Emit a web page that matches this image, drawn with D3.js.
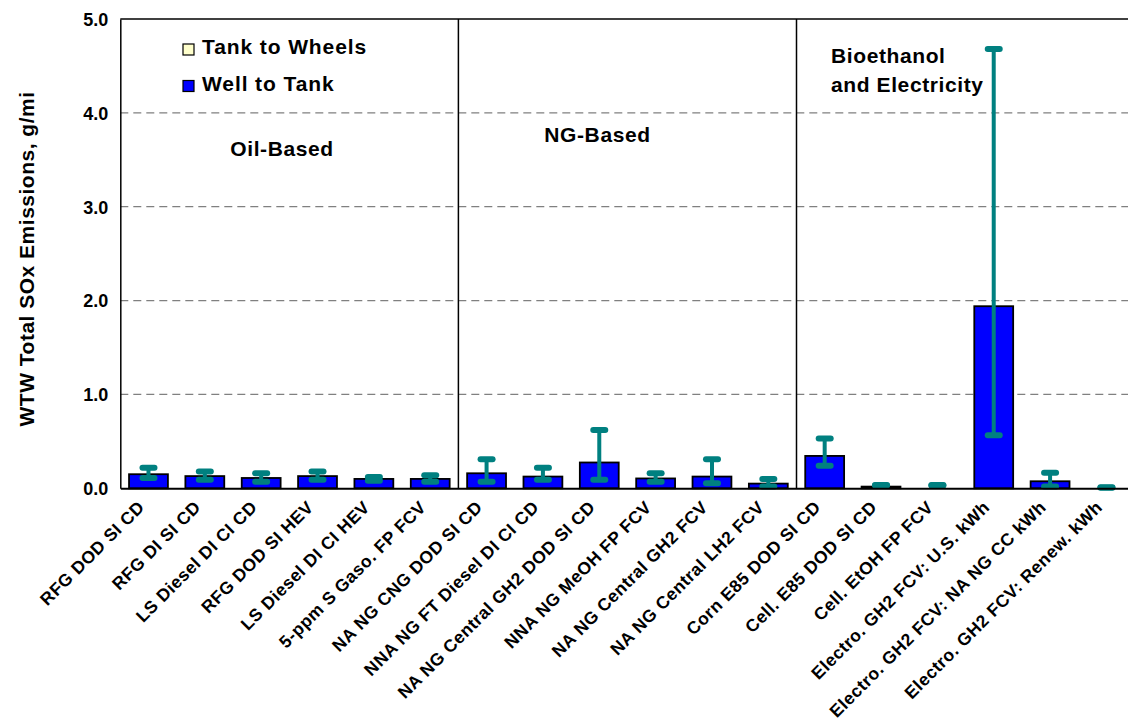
<!DOCTYPE html>
<html><head><meta charset="utf-8">
<script src="https://cdn.jsdelivr.net/npm/d3@7"></script>
<style>
html,body{margin:0;padding:0;background:#fff;}
svg text{font-family:Arial,"Liberation Sans",sans-serif;font-weight:bold;fill:#000;}
</style></head>
<body><svg id="c" width="1128" height="726"></svg>
<script>
const categories = ["RFG DOD SI CD","RFG DI SI CD","LS Diesel DI CI CD","RFG DOD SI HEV","LS Diesel DI CI HEV","5-ppm S Gaso. FP FCV",
 "NA NG CNG DOD SI CD","NNA NG FT Diesel DI CI CD","NA NG Central GH2 DOD SI CD","NNA NG MeOH FP FCV","NA NG Central GH2 FCV","NA NG Central LH2 FCV",
 "Corn E85 DOD SI CD","Cell. E85 DOD SI CD","Cell. EtOH FP FCV","Electro. GH2 FCV: U.S. kWh","Electro. GH2 FCV: NA NG CC kWh","Electro. GH2 FCV: Renew. kWh"];
const wellToTank   = [0.15,0.13,0.11,0.13,0.10,0.10, 0.16,0.125,0.275,0.105,0.125,0.05, 0.345,0.018,0,1.94,0.075,0];
const tankToWheels = [0,0,0,0,0,0, 0,0,0,0,0,0, 0,0,0,0,0,0];
const errHigh = [0.22,0.18,0.16,0.18,0.12,0.14, 0.31,0.22,0.62,0.16,0.31,0.10, 0.53,0.035,0.035,4.68,0.165,0.01];
const errLow  = [0.11,0.09,0.07,0.09,0.08,0.07, 0.07,0.09,0.09,0.07,0.055,0.02, 0.24,0.03,0.03,0.565,0.02,0.005];
const yTicks = [0,1,2,3,4,5];
const groupBreaks = [6,12];
const seriesNames = ["Tank to Wheels","Well to Tank"];
const seriesColors = ["#FFFFCC","#0000FF"];

const svg = d3.select("#c");
const L = 120.3, R = 1134.6, T = 19, B = 488.3;
const x = d3.scaleBand().domain(categories).range([L,R]).paddingInner(0.31).paddingOuter(0.155);
const y = d3.scaleLinear().domain([0,5]).range([B,T]);

// gridlines
svg.append("g").selectAll("line").data(yTicks.filter(d=>d>0&&d<5)).join("line")
 .attr("x1",L).attr("x2",R).attr("y1",d=>y(d)).attr("y2",d=>y(d))
 .attr("stroke","#808080").attr("stroke-width",1.3).attr("stroke-dasharray","8,5");

// frame top
svg.append("line").attr("x1",L).attr("x2",R).attr("y1",T).attr("y2",T).attr("stroke","#000").attr("stroke-width",1.5);

// group separators
const step = x.step();
svg.append("g").selectAll("line").data(groupBreaks).join("line")
 .attr("x1",d=>L+d*step).attr("x2",d=>L+d*step).attr("y1",T).attr("y2",B)
 .attr("stroke","#000").attr("stroke-width",1.5);

// stacked bars
const stackData = categories.map((c,i)=>({c, wtt:wellToTank[i], ttw:tankToWheels[i]}));
const series = d3.stack().keys(["wtt","ttw"])(stackData);
const colorFor = {wtt:seriesColors[1], ttw:seriesColors[0]};
series.forEach(s=>{
  svg.append("g").selectAll("rect").data(s.filter(d=>d[1]-d[0]>0)).join("rect")
   .attr("x",d=>x(d.data.c)).attr("width",x.bandwidth())
   .attr("y",d=>y(d[1])).attr("height",d=>y(d[0])-y(d[1]))
   .attr("fill",colorFor[s.key]).attr("stroke","#000").attr("stroke-width",1.8);
});

// error bars
const eg = svg.append("g").attr("stroke","#008080");
categories.forEach((c,i)=>{
  const cx = x(c)+x.bandwidth()/2;
  eg.append("line").attr("x1",cx).attr("x2",cx).attr("y1",y(errHigh[i])).attr("y2",y(errLow[i])).attr("stroke-width",4);
  [errHigh[i],errLow[i]].forEach(v=>{
    eg.append("line").attr("x1",cx-6).attr("x2",cx+6).attr("y1",y(v)).attr("y2",y(v))
      .attr("stroke-width",6).attr("stroke-linecap","round");
  });
});

// axes
const yAxis = svg.append("g").attr("transform",`translate(${L},0)`)
 .call(d3.axisLeft(y).tickValues(yTicks).tickFormat(d3.format(".1f")).tickSize(0).tickPadding(12));
yAxis.select(".domain").attr("stroke","#000").attr("stroke-width",1.5);
yAxis.selectAll("text").style("font-size","18px").style("font-family","Arial, 'Liberation Sans', sans-serif").style("font-weight","bold").attr("dy","0.35em");

const xAxis = svg.append("g").attr("transform",`translate(0,${B})`)
 .call(d3.axisBottom(x).tickSize(0).tickPadding(0));
xAxis.select(".domain").attr("stroke","#000").attr("stroke-width",2);
xAxis.selectAll("text").style("font-size","17.5px").style("letter-spacing","0.5px").style("font-family","Arial, 'Liberation Sans', sans-serif").style("font-weight","bold")
 .attr("text-anchor","end").attr("dy",0).attr("y",0)
 .attr("transform","translate(-3,20) rotate(-45)");

// y title
svg.append("text").attr("transform","translate(34,259) rotate(-90)").attr("text-anchor","middle")
 .style("font-size","21px").style("letter-spacing","0.5px").text("WTW Total SOx Emissions, g/mi");

// legend
const legend = svg.append("g");
seriesNames.forEach((n,i)=>{
  const ly = 49.5 + i*36.5;
  legend.append("rect").attr("x",183).attr("y",ly-5.5).attr("width",11).attr("height",11)
   .attr("fill",seriesColors[i]).attr("stroke","#000").attr("stroke-width",1.2);
  legend.append("text").attr("x",202).attr("y",ly+4.5).style("font-size","21px").style("letter-spacing","0.9px").text(n);
});

// group labels
const gl = [{t:"Oil-Based",x:282,y:156,a:"middle"},{t:"NG-Based",x:597.5,y:141.5,a:"middle"},
            {t:"Bioethanol",x:831,y:63,a:"start"},{t:"and Electricity",x:831,y:92,a:"start"}];
svg.append("g").selectAll("text").data(gl).join("text")
 .attr("x",d=>d.x).attr("y",d=>d.y).attr("text-anchor",d=>d.a)
 .style("font-size","21px").style("letter-spacing","0.6px").text(d=>d.t);
</script></body></html>
